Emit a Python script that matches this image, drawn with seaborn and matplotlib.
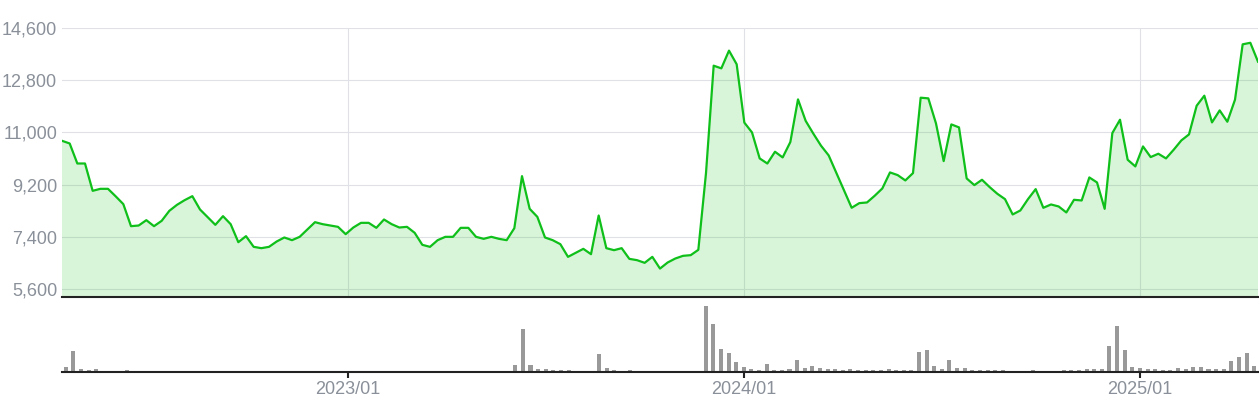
import numpy as np
import pandas as pd
import seaborn as sns
import matplotlib.pyplot as plt

# weekly closing price (yen), one value per week
price = [
    10713, 10621, 9931, 9931, 8989, 9058, 9058, 8800, 8530, 7771,
    7794, 7978, 7771, 7955, 8300, 8507, 8668, 8805, 8346, 8082,
    7817, 8116, 7840, 7220, 7427, 7059, 7013, 7059, 7243, 7381,
    7289, 7404, 7657, 7909, 7840, 7794, 7748, 7496, 7725, 7886,
    7886, 7714, 8001, 7840, 7725, 7748, 7542, 7128, 7059, 7289,
    7404, 7404, 7714, 7714, 7404, 7335, 7404, 7335, 7289, 7702,
    9495, 8369, 8093, 7381, 7289, 7151, 6714, 6852, 6990, 6806,
    8139, 7013, 6944, 7013, 6645, 6600, 6508, 6714, 6310, 6520,
    6657, 6749, 6772, 6956, 9600, 13301, 13209, 13820, 13350, 11340,
    11002, 10106, 9930, 10336, 10140, 10670, 12140, 11400, 10960, 10545,
    10210, 9610, 9015, 8405, 8565, 8588, 8818, 9071, 9623, 9531,
    9347, 9600, 12198, 12175, 11310, 10014, 11278, 11175, 9416, 9186,
    9370, 9117, 8887, 8703, 8175, 8312, 8703, 9048, 8404, 8519,
    8450, 8244, 8680, 8657, 9450, 9278, 8370, 10979, 11439, 10060,
    9830, 10519, 10152, 10267, 10106, 10404, 10726, 10933, 11922, 12267,
    11347, 11761, 11370, 12129, 14037, 14090, 13439,
]

# weekly volume (arbitrary units)
volume = [
    47, 207, 27, 17, 27, 0, 0, 0, 17, 0,
    0, 0, 0, 0, 0, 0, 0, 0, 0, 0,
    0, 0, 0, 0, 0, 0, 0, 0, 0, 0,
    0, 0, 0, 0, 0, 0, 0, 0, 0, 0,
    0, 0, 0, 0, 0, 0, 0, 0, 0, 0,
    0, 0, 0, 0, 0, 0, 0, 0, 0, 67,
    427, 67, 27, 27, 17, 17, 17, 0, 0, 0,
    177, 37, 17, 0, 17, 0, 0, 0, 0, 0,
    0, 0, 0, 0, 657, 477, 227, 187, 97, 47,
    27, 17, 77, 17, 17, 27, 117, 37, 57, 37,
    27, 27, 17, 27, 17, 17, 17, 17, 27, 17,
    17, 17, 197, 217, 57, 27, 117, 37, 37, 17,
    17, 17, 17, 17, 0, 0, 0, 17, 0, 0,
    0, 17, 17, 17, 27, 27, 27, 257, 457, 217,
    47, 37, 27, 27, 17, 17, 37, 27, 47, 47,
    27, 27, 27, 107, 147, 187, 57,
]

weeks = pd.date_range("2022-04-22", periods=len(price), freq="W-FRI")
y_ticks = [5600, 7400, 9200, 11000, 12800, 14600]

n = len(price)
idx = np.arange(n)
# line uses a point scale spanning the full width of the bar bands
pos = np.linspace(-0.5, n - 0.5, n)
new_year = [i for i in range(1, n) if weeks[i].year != weeks[i - 1].year]
year_labels = [weeks[i].strftime("%Y/%m") for i in new_year]

plt.rcParams['font.family'] = ['Liberation Sans', 'DejaVu Sans']
W, H = 1259, 400
fig = plt.figure(figsize=(W / 100, H / 100), dpi=100)
ax_p = fig.add_axes([62 / W, 1 - 296.7 / H, 1196 / W, (296.7 - 27.5) / H])
ax_v = fig.add_axes([62 / W, 1 - 371.5 / H, 1196 / W, (371.5 - 300) / H])

grid_c = '#dfe1e6'
label_c = '#8a9099'
line_c = '#0fbf1a'

# price panel
ax_p.fill_between(pos, price, 0, color='#00c000', alpha=0.15, linewidth=0, zorder=1)
sns.lineplot(x=pos, y=price, ax=ax_p, color=line_c, linewidth=1.6, zorder=3)
ax_p.set_xlim(-0.5, n - 0.5)
ax_p.set_ylim(5341, 14617)
ax_p.set_yticks(y_ticks)
ax_p.set_yticklabels([f"{v:,}" for v in y_ticks])
ax_p.set_xticks(new_year)
ax_p.set_xticklabels([])
ax_p.grid(True, color=grid_c, linewidth=0.8)
ax_p.set_axisbelow(True)
ax_p.tick_params(axis='both', length=0)
ax_p.tick_params(axis='y', labelsize=13, labelcolor=label_c, pad=3.5)
for s in ['top', 'left', 'right']:
    ax_p.spines[s].set_visible(False)
ax_p.spines['bottom'].set_color('#222222')
ax_p.spines['bottom'].set_linewidth(1.5)
ax_p.spines['bottom'].set_zorder(4)
ax_p.set_xlabel("")
ax_p.set_ylabel("")

# volume panel
sns.barplot(x=idx, y=volume, ax=ax_v, color='#999999', saturation=1,
            width=0.53, errorbar=None)
ax_v.set_xlim(-0.5, n - 0.5)
ax_v.set_ylim(0, 715)
ax_v.set_yticks([])
ax_v.set_xticks(new_year)
ax_v.set_xticklabels(year_labels)
ax_v.tick_params(axis='x', direction='out', length=4.5, width=1.5, color='#222222',
                 labelsize=13, labelcolor=label_c, pad=2.5)
for s in ['top', 'left', 'right']:
    ax_v.spines[s].set_visible(False)
ax_v.spines['bottom'].set_color('#222222')
ax_v.spines['bottom'].set_linewidth(1.5)
ax_v.set_xlabel("")
ax_v.set_ylabel("")

fig.savefig("out.png", dpi=100)
